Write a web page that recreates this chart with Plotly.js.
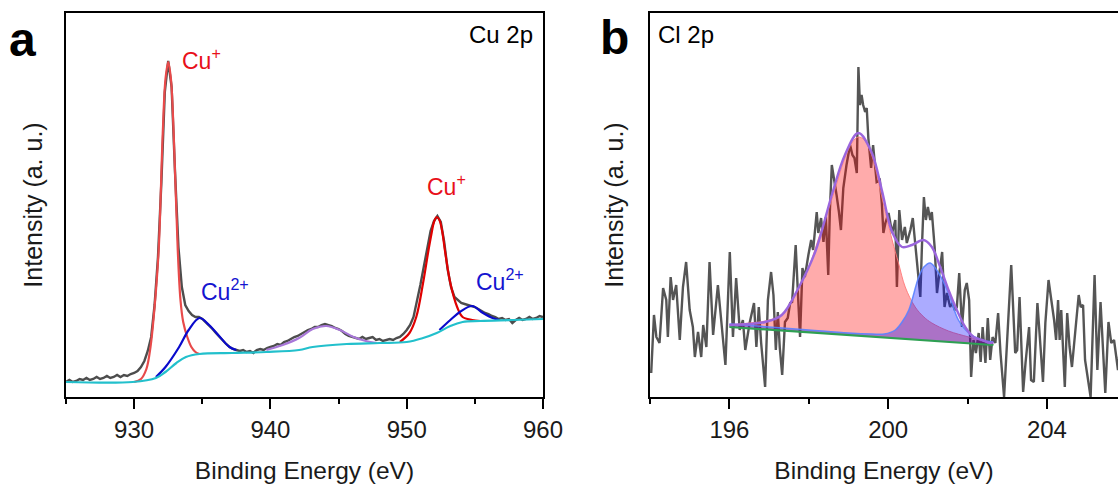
<!DOCTYPE html>
<html>
<head>
<meta charset="utf-8">
<script src="https://cdn.plot.ly/plotly-3.0.1.min.js"></script>
<style>html,body{margin:0;padding:0;background:#fff}#chart{width:1118px;height:486px}</style>
</head>
<body>
<div id="chart"></div>
<script>
// ---------- Panel a : Cu 2p ----------
const cuRawX = [925.00,925.25,925.50,925.75,926.00,926.25,926.50,926.75,927.00,927.25,927.50,927.75,928.00,928.25,928.50,928.75,929.00,929.25,929.50,929.75,
930.00,930.25,930.50,930.75,931.00,931.25,931.50,931.75,932.00,932.25,932.50,932.75,933.00,933.25,933.50,933.75,934.00,934.25,934.50,934.75,
935.00,935.25,935.50,935.75,936.00,936.25,936.50,936.75,937.00,937.25,937.50,937.75,938.00,938.25,938.50,938.75,939.00,939.25,939.50,939.75,
940.00,940.25,940.50,940.75,941.00,941.25,941.50,941.75,942.00,942.25,942.50,942.75,943.00,943.25,943.50,943.75,944.00,944.25,944.50,944.75,
945.00,945.25,945.50,945.75,946.00,946.25,946.50,946.75,947.00,947.25,947.50,947.75,948.00,948.25,948.50,948.75,949.00,949.25,949.50,949.75,
950.00,950.25,950.50,950.75,951.00,951.25,951.50,951.75,952.00,952.25,952.50,952.75,953.00,953.25,953.50,953.75,954.00,954.25,954.50,954.75,
955.00,955.25,955.50,955.75,956.00,956.25,956.50,956.75,957.00,957.25,957.50,957.75,958.00,958.25,958.50,958.75,959.00,959.25,959.50,959.75,960.00];
const cuRawY = [15,17,15,16,18,17,19,17,18,20,18,19,21,19,20,22,20,22,21,23,
24,26,30,36,46,60,92,140,215,305,336,310,225,150,110,92,86,82,80,80,
78,75,72,68,64,60,56,53,50,48,47,46,47,45,46,44,47,48,47,49,
50,51,53,52,55,56,58,60,61,63,65,67,68,70,70,72,73,72,71,69,
68,66,63,61,60,59,58,60,58,59,60,57,58,56,57,58,57,59,60,63,
67,72,80,95,112,130,150,166,176,181,175,155,128,110,100,97,94,93,92,91,
90,88,86,84,83,81,80,78,79,77,78,74,77,79,77,78,80,78,79,81,80];

const cuBgX = [925.0,929.9,931.6,932.3,933.1,933.8,934.8,937.2,939.7,942.1,943.1,945.6,948.0,950.0,951.2,952.2,953.2,954.1,955.4,957.8,960.0];
const cuBgY = [15,15,19,25,34,40,43,44,45,47,50,53,54,55,59,64,71,75,76,77,78];

const cuP1X = [930.0,930.5,930.9,931.2,931.5,931.8,932.1,932.3,932.5,932.7,932.9,933.2,933.4,933.6,933.9,934.2,934.5,934.8];
const cuP1Y = [15,18,28,50,90,147,264,318,335,318,264,147,97,75,60,50,45,43];

const cuS1X = [931.6,932.3,933.3,934.0,934.8,935.5,936.3,937.0,937.5];
const cuS1Y = [20,30,50,67,79,72,60,50,47];

const cuSatX = [939.7,940.9,942.1,943.1,944.1,945.1,946.1,947.0,947.8];
const cuSatY = [47,52,59,68,71,67,60,56,54];

const cuP2X = [949.5,950.2,950.7,951.2,951.6,951.8,952.0,952.2,952.4,952.6,952.8,953.2,953.7,954.1,954.8,955.4];
const cuP2Y = [55,64,80,114,147,162,175,180,177,166,147,114,90,80,77,76];

const cuS2X = [952.4,953.2,953.9,954.8,955.6,956.3,956.8];
const cuS2Y = [67,77,85,91,84,79,77];

// ---------- Panel b : Cl 2p ----------
const clRawX = [194.03,194.10,194.16,194.24,194.33,194.41,194.45,194.52,194.58,194.66,194.75,194.83,194.91,195.00,195.08,195.13,195.21,195.29,195.34,195.42,
195.50,195.59,195.71,195.80,195.90,196.01,196.09,196.17,196.26,196.34,196.40,196.51,196.62,196.68,196.74,196.80,196.90,196.97,197.05,197.11,
197.17,197.22,197.27,197.33,197.40,197.47,197.53,197.58,197.67,197.72,197.78,197.84,197.90,197.99,198.06,198.11,198.20,198.24,198.31,198.37,
198.43,198.49,198.53,198.58,198.64,198.70,198.76,198.81,198.87,198.95,199.04,199.10,199.15,199.21,199.25,199.29,199.33,199.37,199.42,199.46,
199.50,199.57,199.62,199.67,199.71,199.79,199.84,199.88,199.93,200.01,200.10,200.18,200.22,200.28,200.35,200.42,200.47,200.56,200.62,200.68,
200.75,200.81,200.85,200.90,200.95,201.00,201.06,201.10,201.17,201.23,201.29,201.36,201.42,201.48,201.56,201.62,201.68,201.73,201.79,201.86,
201.93,201.98,202.04,202.09,202.15,202.21,202.28,202.33,202.38,202.45,202.51,202.57,202.63,202.70,202.77,202.83,202.92,203.00,203.10,203.20,
203.25,203.31,203.40,203.46,203.55,203.60,203.67,203.76,203.84,203.90,203.96,204.04,204.11,204.18,204.23,204.28,204.32,204.36,204.45,204.51,
204.57,204.63,204.71,204.80,204.85,204.91,204.96,205.03,205.10,205.20,205.27,205.35,205.41,205.47,205.55,205.62,205.69,205.74,205.79,205.86];
const clRawY = [24,82,60,54,109,97,60,120,97,112,57,110,135,87,70,40,65,40,72,50,
135,62,112,74,32,145,60,119,67,77,47,74,94,50,90,54,10,97,125,102,
47,85,49,22,75,79,94,95,152,109,60,129,120,142,157,147,185,164,179,155,
180,122,185,232,219,202,185,167,209,232,252,242,239,224,330,292,302,292,285,289,
259,229,252,228,215,217,194,164,174,184,164,177,110,187,157,170,154,167,179,154,
120,100,150,200,177,190,177,185,150,104,124,145,90,104,90,94,87,90,124,70,
107,114,97,20,57,44,64,35,70,34,79,37,60,54,84,44,0,57,132,44,
47,100,5,34,70,17,15,94,47,15,74,117,97,77,57,97,57,87,10,84,
50,30,64,102,90,92,37,17,0,122,27,95,47,4,75,54,57,44,27,60];

const clBgX = [196.0,202.65];
const clBgY = [70,52];

const clAX = [196.0,196.5,196.9,197.3,197.7,198.0,198.3,198.6,198.9,199.1,199.25,199.4,199.6,199.84,200.1,200.26,200.43,200.68,200.9,201.1,201.52,202.03,202.4,202.65];
const clAY = [72,74,76,82,105,130,165,200,238,255,260,257,240,200,157,134,110,90,80,74,66,60,56,53];

const clBX = [196.0,197.0,198.0,199.0,199.6,199.9,200.18,200.35,200.52,200.77,200.9,201.06,201.27,201.52,201.77,202.03,202.36,202.65];
const clBY = [73,70,67,64,63,63,67,75,87,120,130,134,124,104,77,64,57,55];

const clEnvX = [196.0,196.5,196.9,197.32,197.74,198.16,198.58,198.91,199.25,199.58,199.84,200.10,200.35,200.60,200.89,201.10,201.31,201.52,201.73,201.94,202.15,202.36,202.57,202.65];
const clEnvY = [72,73,75,82,109,145,202,242,264,245,207,165,150,152,157,150,130,107,87,70,60,57,54,55];

const cuTicks = [930,940,950,960];
const clTicks = [196,200,204];

// ---------- traces ----------
const FONT = "'Liberation Sans', Arial, Helvetica, sans-serif";
function ln(x, y, color, width, axes, extra) {
  return Object.assign({x:x, y:y, type:'scatter', mode:'lines', line:{color:color, width:width},
    xaxis:axes[0], yaxis:axes[1], hoverinfo:'skip', showlegend:false}, extra || {});
}
const A = ['x','y'], B = ['x2','y2'];
const data = [
  ln(cuRawX, cuRawY, '#4d4d4d', 2.4, A),
  ln(cuP1X, cuP1Y, '#e84a4a', 2.2, A, {line:{color:'#e84a4a', width:2.2, shape:'spline'}}),
  ln(cuS1X, cuS1Y, '#0a0acc', 2.2, A, {line:{color:'#0a0acc', width:2.2, shape:'spline'}}),
  ln(cuSatX, cuSatY, '#a877d8', 2.2, A, {line:{color:'#a877d8', width:2.2, shape:'spline'}}),
  ln(cuP2X, cuP2Y, '#e00000', 2.2, A, {line:{color:'#e00000', width:2.2, shape:'spline'}}),
  ln(cuS2X, cuS2Y, '#0a0acc', 2.2, A, {line:{color:'#0a0acc', width:2.2, shape:'spline'}}),
  ln(cuBgX, cuBgY, '#22c0cc', 2.2, A, {line:{color:'#22c0cc', width:2.2, shape:'spline'}}),

  ln(clRawX, clRawY, '#555555', 2.4, B),
  ln(clBgX, clBgY, 'rgba(0,0,0,0)', 0, B),
  ln(clAX, clAY, 'rgba(255,120,120,0.9)', 1, B, {line:{color:'rgba(255,120,120,0.9)', width:1, shape:'spline'}, fill:'tonexty', fillcolor:'rgba(255,0,0,0.33)'}),
  ln(clBgX, clBgY, 'rgba(0,0,0,0)', 0, B),
  ln(clBX, clBY, 'rgba(90,130,255,0.9)', 1.5, B, {line:{color:'rgba(90,130,255,0.9)', width:1.5, shape:'spline'}, fill:'tonexty', fillcolor:'rgba(0,0,255,0.33)'}),
  ln(clBgX, clBgY, '#2ea052', 2.2, B),
  ln(clEnvX, clEnvY, '#9b66dd', 2.4, B, {line:{color:'#9b66dd', width:2.4, shape:'spline'}})
];

const axBase = {showgrid:false, zeroline:false, showline:true, linecolor:'#000', linewidth:2};
const tickFont = {family:FONT, size:24, color:'#1a1a1a'};
const titleFont = {family:FONT, size:24.5, color:'#1a1a1a'};
const yTitleFont = {family:FONT, size:25, color:'#1a1a1a'};

const layout = {
  width:1118, height:486,
  margin:{l:0, r:0, t:0, b:0},
  paper_bgcolor:'#fff', plot_bgcolor:'#fff',
  font:{family:FONT},
  xaxis: Object.assign({}, axBase, {domain:[0.05903,0.48569], range:[925,960], mirror:true,
    ticks:'outside', ticklen:10, tickwidth:2, tickcolor:'#000', tickvals:cuTicks, ticktext:cuTicks.map(String),
    minor:{dtick:5, tick0:925, ticks:'outside', ticklen:5, tickwidth:2, tickcolor:'#000', showgrid:false},
    tickfont:tickFont, automargin:false,
    title:{text:'Binding Energy (eV)', font:titleFont, standoff:20}}),
  yaxis: Object.assign({}, axBase, {domain:[0.18313,0.97325], range:[0,384], mirror:true,
    ticks:'', showticklabels:false, automargin:false,
    title:{text:'Intensity (a. u.)', font:yTitleFont, standoff:14}}),
  xaxis2: Object.assign({}, axBase, {domain:[0.58140,1.0], range:[194,205.79], mirror:true, anchor:'y2',
    ticks:'outside', ticklen:10, tickwidth:2, tickcolor:'#000', tickvals:clTicks, ticktext:clTicks.map(String),
    minor:{dtick:2, tick0:194, ticks:'outside', ticklen:5, tickwidth:2, tickcolor:'#000', showgrid:false},
    tickfont:tickFont, automargin:false,
    title:{text:'Binding Energy (eV)', font:titleFont, standoff:20}}),
  yaxis2: Object.assign({}, axBase, {domain:[0.18313,0.97325], range:[0,384], mirror:false, anchor:'x2',
    ticks:'', showticklabels:false, automargin:false,
    title:{text:'Intensity (a. u.)', font:yTitleFont, standoff:17}}),
  annotations: [
    {text:'<b>a</b>', x:22/1118, y:1-40/486, xref:'paper', yref:'paper', xanchor:'center', yanchor:'middle', showarrow:false, font:{family:FONT, size:48, color:'#000'}},
    {text:'<b>b</b>', x:614/1118, y:1-38/486, xref:'paper', yref:'paper', xanchor:'center', yanchor:'middle', showarrow:false, font:{family:FONT, size:48, color:'#000'}},
    {text:'Cu 2p', x:535/1118, y:1-34/486, xref:'paper', yref:'paper', xanchor:'right', yanchor:'middle', showarrow:false, font:{family:FONT, size:24, color:'#000'}},
    {text:'Cl 2p', x:656/1118, y:1-34/486, xref:'paper', yref:'paper', xanchor:'left', yanchor:'middle', showarrow:false, font:{family:FONT, size:24, color:'#000'}},
    {text:'Cu<sup>+</sup>', x:180/1118, y:1-59/486, xref:'paper', yref:'paper', xanchor:'left', yanchor:'middle', showarrow:false, font:{family:FONT, size:23, color:'#e8101a'}},
    {text:'Cu<sup>+</sup>', x:425/1118, y:1-185/486, xref:'paper', yref:'paper', xanchor:'left', yanchor:'middle', showarrow:false, font:{family:FONT, size:23, color:'#e8101a'}},
    {text:'Cu<sup>2+</sup>', x:199/1118, y:1-290/486, xref:'paper', yref:'paper', xanchor:'left', yanchor:'middle', showarrow:false, font:{family:FONT, size:23, color:'#1414d0'}},
    {text:'Cu<sup>2+</sup>', x:474/1118, y:1-280/486, xref:'paper', yref:'paper', xanchor:'left', yanchor:'middle', showarrow:false, font:{family:FONT, size:23, color:'#1414d0'}}
  ]
};

Plotly.newPlot('chart', data, layout, {displayModeBar:false});
</script>
</body>
</html>
